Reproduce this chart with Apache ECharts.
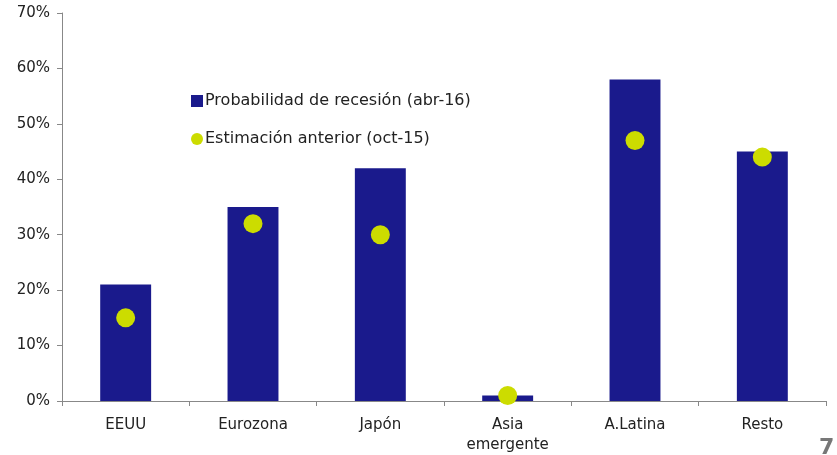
<!DOCTYPE html>
<html>
<head>
<meta charset="utf-8">
<script src="https://cdn.jsdelivr.net/npm/echarts@6/dist/echarts.min.js"></script>
<style>
  html, body { margin: 0; padding: 0; background: #fff; }
  #chart { width: 837px; height: 455px; }
</style>
</head>
<body>
<div id="chart"></div>
<script>
// Regions and recession probabilities (%)
const regions = ['EEUU', 'Eurozona', 'Japón', 'Asia\nemergente', 'A.Latina', 'Resto'];
const probAbr16 = [21, 35, 42, 1, 58, 45];
const estOct15 = [15, 32, 30, 1, 47, 44];
const yTicks = [0, 10, 20, 30, 40, 50, 60, 70];

const FONT = 'DejaVu Sans';
const chart = echarts.init(document.getElementById('chart'));

chart.setOption({
  animation: false,
  backgroundColor: '#ffffff',
  grid: { left: 62, right: 11, top: 13, bottom: 52, containLabel: false },
  legend: {
    orient: 'vertical',
    left: 186,
    top: 88,
    itemGap: 22,
    itemWidth: 12,
    itemHeight: 12,
    textStyle: { fontFamily: FONT, fontSize: 16, color: '#222', padding: [0, 0, 0, -3] },
    data: [
      { name: 'Probabilidad de recesión (abr-16)', icon: 'rect' },
      { name: 'Estimación anterior (oct-15)', icon: 'circle' }
    ]
  },
  xAxis: {
    type: 'category',
    data: regions,
    boundaryGap: true,
    axisLine: { lineStyle: { color: '#888', width: 1 } },
    axisTick: { show: true, length: 5, lineStyle: { color: '#888' } },
    axisLabel: { fontFamily: FONT, fontSize: 15, color: '#222', margin: 14, lineHeight: 20 }
  },
  yAxis: {
    type: 'value',
    min: yTicks[0],
    max: yTicks[yTicks.length - 1],
    interval: 10,
    axisLine: { show: true, lineStyle: { color: '#888', width: 1 } },
    axisTick: { show: true, length: 5, lineStyle: { color: '#888' } },
    splitLine: { show: false },
    axisLabel: { fontFamily: FONT, fontSize: 15, color: '#222', margin: 12, formatter: v => v + '%' }
  },
  series: [
    {
      name: 'Probabilidad de recesión (abr-16)',
      type: 'bar',
      data: probAbr16,
      barWidth: '40%',
      itemStyle: { color: '#1a1a8c' }
    },
    {
      name: 'Estimación anterior (oct-15)',
      type: 'scatter',
      data: estOct15,
      symbol: 'circle',
      symbolSize: 19,
      itemStyle: { color: '#ccdc00', opacity: 1 },
      z: 5
    }
  ],
  graphic: [
    {
      type: 'text',
      left: 819,
      top: 437,
      style: { text: '7', fontFamily: FONT, fontSize: 22, fontWeight: 'bold', fill: '#777' }
    }
  ]
});
</script>
</body>
</html>
